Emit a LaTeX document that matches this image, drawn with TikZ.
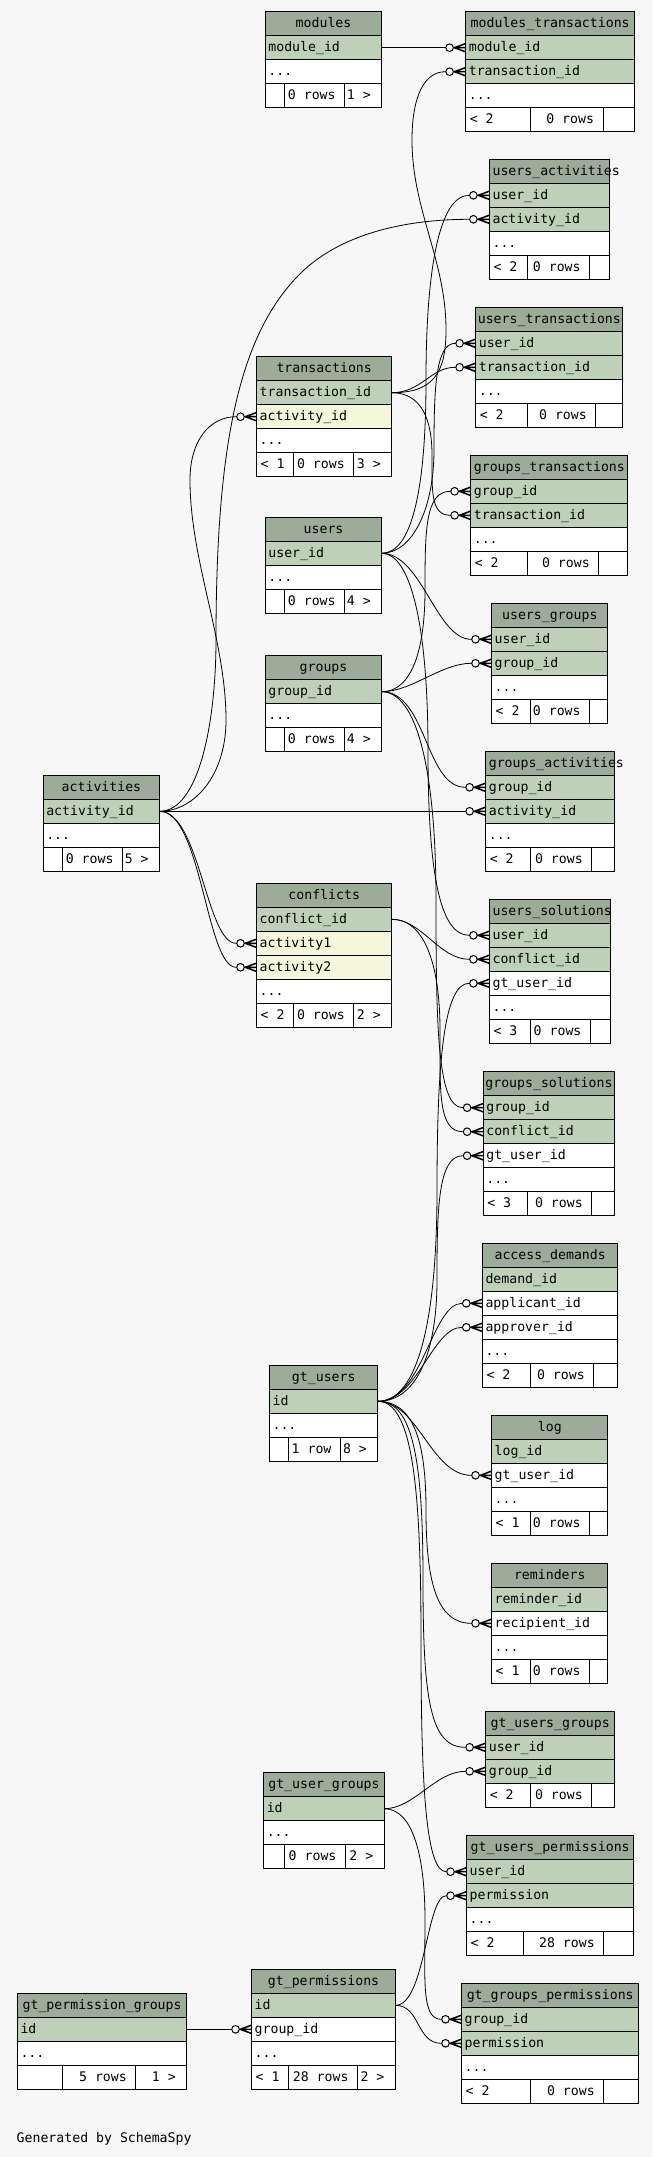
\documentclass[tikz,border=0pt]{standalone}
\usepackage{fontspec}
\newfontfamily\monoff{DejaVu Sans Mono}
\newcommand\tabfont{\monoff\fontsize{13.2pt}{15pt}\selectfont}
\newcommand\ddd{...}
\definecolor{hdrc}{RGB}{157,172,153}
\definecolor{keyc}{RGB}{190,209,184}
\definecolor{idxc}{RGB}{244,247,218}
\definecolor{pagebg}{RGB}{247,247,247}
\pgfdeclarearrow{
  name = CrowO,
  setup code = {
    \pgfarrowssettipend{0pt}
    \pgfarrowssetbackend{-21pt}
    \pgfarrowssetvisualbackend{-21pt}
    \pgfarrowssetlineend{-20pt}
    \pgfarrowshullpoint{0pt}{5pt}
    \pgfarrowshullpoint{0pt}{-5pt}
    \pgfarrowshullpoint{-21pt}{4pt}
    \pgfarrowshullpoint{-21pt}{-4pt}
  },
  drawing code = {
    \pgfsetdash{}{0pt}
    \pgfsetlinewidth{1.5pt}
    \pgfpathmoveto{\pgfqpoint{0pt}{4.2pt}}
    \pgfpathlineto{\pgfqpoint{-11.5pt}{0pt}}
    \pgfpathlineto{\pgfqpoint{0pt}{-4.2pt}}
    \pgfpathmoveto{\pgfqpoint{-11.5pt}{0pt}}
    \pgfpathlineto{\pgfqpoint{0pt}{0pt}}
    \pgfusepathqstroke
    \pgfsetlinewidth{1pt}
    \pgfpathcircle{\pgfqpoint{-16.2pt}{0pt}}{3.8pt}
    \pgfsetfillcolor{pagebg}
    \pgfusepathqfillstroke
  }
}
\tikzset{
  rowbox/.style={draw, line width=1pt, anchor=north west, minimum height=24pt, inner sep=0pt, outer sep=0pt},
  txt/.style={inner sep=0pt, outer sep=0pt, font=\tabfont, text height=10pt, text depth=2pt},
  tline/.style={line width=1pt},
  fkline/.style={line width=0.8pt, -{CrowO}},
}
\newcommand\dbt[7]{%
  \gdef\Tid{#1}\gdef\Tx{#2}\gdef\Ty{#3}\gdef\Tw{#4}%
  \node[rowbox, fill=hdrc, minimum width=#4pt] (#1) at (#2,#3) {};
  \if l#5\relax
    \node[txt, anchor=west] (#1-t) at ([xshift=3pt]#1.west) {#6};
  \else
    \node[txt] (#1-t) at (#1.center) {#6};
  \fi
  \foreach \rs/\rt [count=\ri] in {#7} {%
    \node[rowbox, fill=\rs, minimum width=#4pt] (#1-\ri) at (#2,#3+24*\ri) {};
    \node[txt, anchor=west] (#1-\ri-t) at ([xshift=3pt]#1-\ri.west) {\rt};
    \xdef\Nrows{\ri}%
  }%
}
\newcommand\dbf[5]{%
  \pgfmathsetmacro\Fy{\Ty+24*(\Nrows+1)}%
  \node[rowbox, fill=white, minimum width=\Tw pt] (\Tid-f) at (\Tx,\Fy) {};
  \draw[tline] (\Tx+#1,\Fy) -- ++(0,24);
  \draw[tline] (\Tx+#2,\Fy) -- ++(0,24);
  \node[txt, anchor=west] (\Tid-fl) at (\Tx+4,\Fy+12) {#3};
  \node[txt, anchor=east] (\Tid-fm) at (\Tx+#2-9,\Fy+12) {#4};
  \node[txt, anchor=east] (\Tid-fr) at (\Tx+\Tw-11,\Fy+12) {#5};
}
\newcommand\fk[4]{\draw[fkline] (#1.east) .. controls +(#3,0) and +(-#4,0) .. ([xshift=-20.5pt]#2.west) -- (#2.west);}
\newcommand\fkm[7]{\draw[fkline] (#1.east) .. controls +(#3,0) and ({#4},{#5+#6}) .. ({#4},{#5}) .. controls ({#4},{#5-#6}) and +(-#7,0) .. ([xshift=-20.5pt]#2.west) -- (#2.west);}
\catcode`\_=12
\begin{document}
\begin{tikzpicture}[x=1pt,y=-1pt]
\fill[pagebg] (0,0) rectangle (653,2157);
\useasboundingbox (0,0) rectangle (653,2157);

\dbt{mod}{265.4}{11.7}{116.3}{c}{modules}{keyc/module_id, white/\ddd}
\dbf{19.2}{79.2}{}{0 rows}{1 >}
\dbt{mt}{465.8}{11.7}{168.8}{c}{modules_transactions}{keyc/module_id, keyc/transaction_id, white/\ddd}
\dbf{64.2}{137.2}{< 2}{0 rows}{}
\dbt{ua}{489.6}{159.3}{120}{l}{users_activities}{keyc/user_id, keyc/activity_id, white/\ddd}
\dbf{37.9}{100}{< 2}{0 rows}{}
\dbt{ut}{475.8}{307.3}{147.1}{c}{users_transactions}{keyc/user_id, keyc/transaction_id, white/\ddd}
\dbf{51.7}{120}{< 2}{0 rows}{}
\dbt{tr}{256.7}{356.7}{135}{c}{transactions}{keyc/transaction_id, idxc/activity_id, white/\ddd}
\dbf{37.1}{97.05}{< 1}{0 rows}{3 >}
\dbt{gtx}{470.8}{455.3}{157.1}{c}{groups_transactions}{keyc/group_id, keyc/transaction_id, white/\ddd}
\dbf{57.1}{127.95}{< 2}{0 rows}{}
\dbt{us}{265.4}{517.3}{116.3}{c}{users}{keyc/user_id, white/\ddd}
\dbf{19.2}{79.2}{}{0 rows}{4 >}
\dbt{ug}{491.7}{603.3}{116.2}{c}{users_groups}{keyc/user_id, keyc/group_id, white/\ddd}
\dbf{38.3}{97.9}{< 2}{0 rows}{}
\dbt{gr}{265.4}{655.7}{116.3}{c}{groups}{keyc/group_id, white/\ddd}
\dbf{19.2}{79.2}{}{0 rows}{4 >}
\dbt{ga}{485.8}{751.3}{128.8}{l}{groups_activities}{keyc/group_id, keyc/activity_id, white/\ddd}
\dbf{44.2}{105.9}{< 2}{0 rows}{}
\dbt{ac}{43.3}{775.3}{116.3}{c}{activities}{keyc/activity_id, white/\ddd}
\dbf{19.2}{79.2}{}{0 rows}{5 >}
\dbt{cf}{256.7}{883.3}{135}{c}{conflicts}{keyc/conflict_id, idxc/activity1, idxc/activity2, white/\ddd}
\dbf{37.1}{97.05}{< 2}{0 rows}{2 >}
\dbt{usol}{489.6}{899.3}{121.2}{l}{users_solutions}{keyc/user_id, keyc/conflict_id, white/gt_user_id, white/\ddd}
\dbf{40.4}{100.8}{< 3}{0 rows}{}
\dbt{gsol}{483.3}{1071.7}{131.3}{c}{groups_solutions}{keyc/group_id, keyc/conflict_id, white/gt_user_id, white/\ddd}
\dbf{44.2}{108.4}{< 3}{0 rows}{}
\dbt{ad}{482.5}{1243.3}{135.4}{c}{access_demands}{keyc/demand_id, white/applicant_id, white/approver_id, white/\ddd}
\dbf{47.5}{111.25}{< 2}{0 rows}{}
\dbt{gu}{269.6}{1365.3}{108.3}{c}{gt_users}{keyc/id, white/\ddd}
\dbf{19.15}{70.8}{}{1 row}{8 >}
\dbt{log}{491.7}{1415.3}{116.2}{c}{log}{keyc/log_id, white/gt_user_id, white/\ddd}
\dbf{38.3}{97.9}{< 1}{0 rows}{}
\dbt{rem}{491.7}{1563.3}{116.2}{c}{reminders}{keyc/reminder_id, white/recipient_id, white/\ddd}
\dbf{38.3}{97.9}{< 1}{0 rows}{}
\dbt{gtug}{485.8}{1711.3}{128.8}{c}{gt_users_groups}{keyc/user_id, keyc/group_id}
\dbf{44.2}{105.9}{< 2}{0 rows}{}
\dbt{gug}{263.75}{1772.7}{120.45}{c}{gt_user_groups}{keyc/id, white/\ddd}
\dbf{20.85}{81.65}{}{0 rows}{2 >}
\dbt{gtup}{466.7}{1835.7}{167}{c}{gt_users_permissions}{keyc/user_id, keyc/permission, white/\ddd}
\dbf{57.05}{137.05}{< 2}{28 rows}{}
\dbt{gp}{251.7}{1969.3}{143.7}{c}{gt_permissions}{keyc/id, white/group_id, white/\ddd}
\dbf{37.05}{105.8}{< 1}{28 rows}{2 >}
\dbt{gpg}{17.5}{1993.3}{169.2}{c}{gt_permission_groups}{keyc/id, white/\ddd}
\dbf{45}{118.3}{}{5 rows}{1 >}
\dbt{ggp}{461.7}{1983.3}{177.05}{c}{gt_groups_permissions}{keyc/group_id, keyc/permission, white/\ddd}
\dbf{68.3}{142.05}{< 2}{0 rows}{}

\node[txt, anchor=west] (gen) at (16.7,2138.3) {Generated by SchemaSpy};

% connectors
\draw[fkline] (mod-1.east) -- (mt-1.west);
\draw[fkline] (tr-1.east) .. controls +(40,0) and (446,375) .. (446,330) .. controls (446,260) and (412,210) .. (412,140) .. controls (412,95) and (425,71.7) .. ([xshift=-20.5pt]mt-2.west) -- (mt-2.west);
\fkm{us-1}{ua-1}{30}{426}{380}{110}{30}
\draw[fkline] (ac-1.east) .. controls +(40,0) and (216,720) .. (216,640) .. controls (216,440) and (240,330) .. (304,270) .. controls (350,228) and (420,219.3) .. ([xshift=-20.5pt]ua-2.west) -- (ua-2.west);
\fkm{us-1}{ut-1}{30}{434}{450}{60}{20}
\fk{tr-1}{ut-2}{30}{25}
\draw[fkline] (ac-1.east) .. controls +(35,0) and (226,775) .. (226,720) .. controls (226,640) and (190,560) .. (190,480) .. controls (190,440) and (210,416.7) .. ([xshift=-20.5pt]tr-2.west) -- (tr-2.west);
\fkm{gr-1}{gtx-1}{30}{425}{590}{60}{25}
\fkm{tr-1}{gtx-2}{30}{432}{455}{-35}{20}
\fk{us-1}{ug-1}{40}{35}
\fk{gr-1}{ug-2}{30}{30}
\fk{gr-1}{ga-1}{45}{40}
\draw[fkline] (ac-1.east) -- (ga-2.west);
\fk{ac-1}{cf-2}{40}{30}
\fk{ac-1}{cf-3}{42}{30}
\fkm{us-1}{usol-1}{30}{428}{750}{-120}{30}
\fk{cf-1}{usol-2}{30}{30}
\fkm{gu-1}{usol-3}{40}{437}{1190}{130}{25}
\fkm{gr-1}{gsol-1}{35}{436}{900}{-130}{25}
\fkm{cf-1}{gsol-2}{35}{440}{1030}{-60}{25}
\fkm{gu-1}{gsol-3}{40}{437}{1280}{70}{25}
\fk{gu-1}{ad-2}{45}{30}
\fk{gu-1}{ad-3}{40}{30}
\fk{gu-1}{log-2}{40}{40}
\fkm{gu-1}{rem-2}{35}{426}{1510}{-70}{35}
\fkm{gu-1}{gtug-1}{35}{423}{1580}{-120}{35}
\fkm{gu-1}{gtup-1}{35}{421}{1640}{-150}{20}
\fk{gug-1}{gtug-2}{30}{30}
\fkm{gug-1}{ggp-1}{30}{425}{1920}{-60}{20}
\fk{gp-1}{gtup-2}{30}{20}
\fk{gp-1}{ggp-2}{25}{25}
\draw[fkline] (gpg-1.east) -- (gp-2.west);
\end{tikzpicture}
\end{document}
